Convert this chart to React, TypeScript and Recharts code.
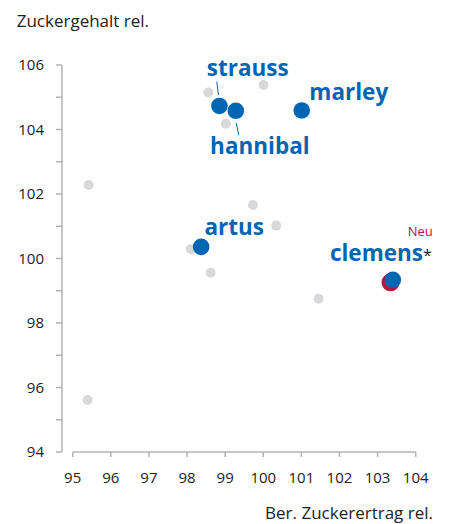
import React from 'react';
import {
  ScatterChart,
  Scatter,
  XAxis,
  YAxis,
  ReferenceLine,
} from 'recharts';

// other varieties (grey)
const otherX = [98.56, 100.01, 99.02, 95.42, 98.1, 99.73, 100.34, 98.62, 101.45, 95.39];
const otherY = [105.15, 105.38, 104.18, 102.28, 100.29, 101.66, 101.02, 99.56, 98.75, 95.61];

// highlighted varieties (blue)
const varieties = ['strauss', 'hannibal', 'marley', 'artus', 'clemens'];
const varietyX = [98.85, 99.28, 101.01, 98.37, 103.4];
const varietyY = [104.73, 104.58, 104.59, 100.36, 99.34];

// new variety marker (red ring behind clemens)
const newX = [103.34];
const newY = [99.26];

const xTicks = [95, 96, 97, 98, 99, 100, 101, 102, 103, 104];
const yTicks = [94, 95, 96, 97, 98, 99, 100, 101, 102, 103, 104, 105, 106];

const BLUE = '#0066b3';
const RED = '#b8123f';
const GREY = '#d9d9db';
const AXIS = '#b3b3b3';
const TEXT = '#222222';
const FONT = '"Open Sans", sans-serif';

const otherData = otherX.map((x, i) => ({ x, y: otherY[i] }));
const varietyData = varieties.map((name, i) => ({ name, x: varietyX[i], y: varietyY[i] }));
const newData = newX.map((x, i) => ({ x, y: newY[i] }));

const LABELS: Record<string, { dx: number; dy: number; anchor: 'start' | 'end'; leader?: number[] }> = {
  strauss: { dx: -12.6, dy: -30, anchor: 'start', leader: [-2.6, -24.3, -1, -11] },
  hannibal: { dx: -25.7, dy: 43.3, anchor: 'start', leader: [0.3, 12, 3, 24.3] },
  marley: { dx: 7.6, dy: -10.3, anchor: 'start' },
  artus: { dx: 3.3, dy: -12, anchor: 'start' },
  clemens: { dx: 39, dy: -18.7, anchor: 'end' },
};

function VarietyDot(props: any) {
  const { cx, cy, payload } = props;
  const lab = LABELS[payload.name];
  return (
    <g>
      <circle cx={cx} cy={cy} r={8.3} fill={BLUE} />
      {lab && lab.leader && (
        <line
          x1={cx + lab.leader[0]}
          y1={cy + lab.leader[1]}
          x2={cx + lab.leader[2]}
          y2={cy + lab.leader[3]}
          stroke={BLUE}
          strokeWidth={1}
        />
      )}
      {lab && (
        <text
          x={cx + lab.dx}
          y={cy + lab.dy}
          textAnchor={lab.anchor}
          fill={BLUE}
          fontFamily={FONT}
          fontWeight={700}
          fontSize={22.5}
        >
          {payload.name}
          {payload.name === 'clemens' && (
            <tspan fill={TEXT} fontWeight={400} fontSize={16}>*</tspan>
          )}
        </text>
      )}
      {payload.name === 'clemens' && (
        <text
          x={cx + 40}
          y={cy - 44}
          textAnchor="end"
          fill={RED}
          fontFamily={FONT}
          fontSize={13}
        >
          Neu
        </text>
      )}
    </g>
  );
}

function YTick(props: any) {
  const { x, y, payload } = props;
  if (payload.value % 2 !== 0) return null;
  return (
    <text x={x} y={y} dy="0.355em" textAnchor="end" fill={TEXT} fontFamily={FONT} fontSize={15}>
      {payload.value}
    </text>
  );
}

export default function App() {
  return (
    <div style={{ position: 'absolute', left: 0, top: 0, width: 450, height: 524 }}>
      <ScatterChart width={450} height={524} margin={{ top: 65, right: 34.3, bottom: 0, left: 0 }}>
        <XAxis
          type="number"
          dataKey="x"
          domain={[95, 104]}
          ticks={xTicks}
          padding={{ left: 10.7, right: 0 }}
          axisLine={false}
          tickLine={{ stroke: AXIS, strokeWidth: 1.5 }}
          tickSize={5}
          tickMargin={15}
          height={72}
          tick={{ fill: TEXT, fontFamily: FONT, fontSize: 15 }}
        />
        <YAxis
          type="number"
          dataKey="y"
          domain={[94, 106]}
          ticks={yTicks}
          width={62}
          axisLine={{ stroke: AXIS, strokeWidth: 1.5 }}
          tickLine={{ stroke: AXIS, strokeWidth: 1.5 }}
          tickSize={6}
          tickMargin={12}
          tick={<YTick />}
          interval={0}
        />
        <ReferenceLine
          segment={[{ x: 95, y: 94 }, { x: 104, y: 94 }]}
          stroke={AXIS}
          strokeWidth={1.5}
          ifOverflow="visible"
        />
        <Scatter data={otherData} fill={GREY} isAnimationActive={false}
          shape={(p: any) => <circle cx={p.cx} cy={p.cy} r={5} fill={GREY} />} />
        <Scatter data={newData} fill={RED} isAnimationActive={false}
          shape={(p: any) => <circle cx={p.cx} cy={p.cy} r={9} fill={RED} />} />
        <Scatter data={varietyData} fill={BLUE} isAnimationActive={false} shape={<VarietyDot />} />
      </ScatterChart>
      <svg
        width={450}
        height={524}
        style={{ position: 'absolute', left: 0, top: 0, pointerEvents: 'none' }}
      >
        <text x={16.7} y={26.7} fill={TEXT} fontFamily={FONT} fontSize={17}>
          Zuckergehalt rel.
        </text>
        <text x={433} y={519} textAnchor="end" fill={TEXT} fontFamily={FONT} fontSize={17}>
          Ber. Zuckerertrag rel.
        </text>
      </svg>
    </div>
  );
}
